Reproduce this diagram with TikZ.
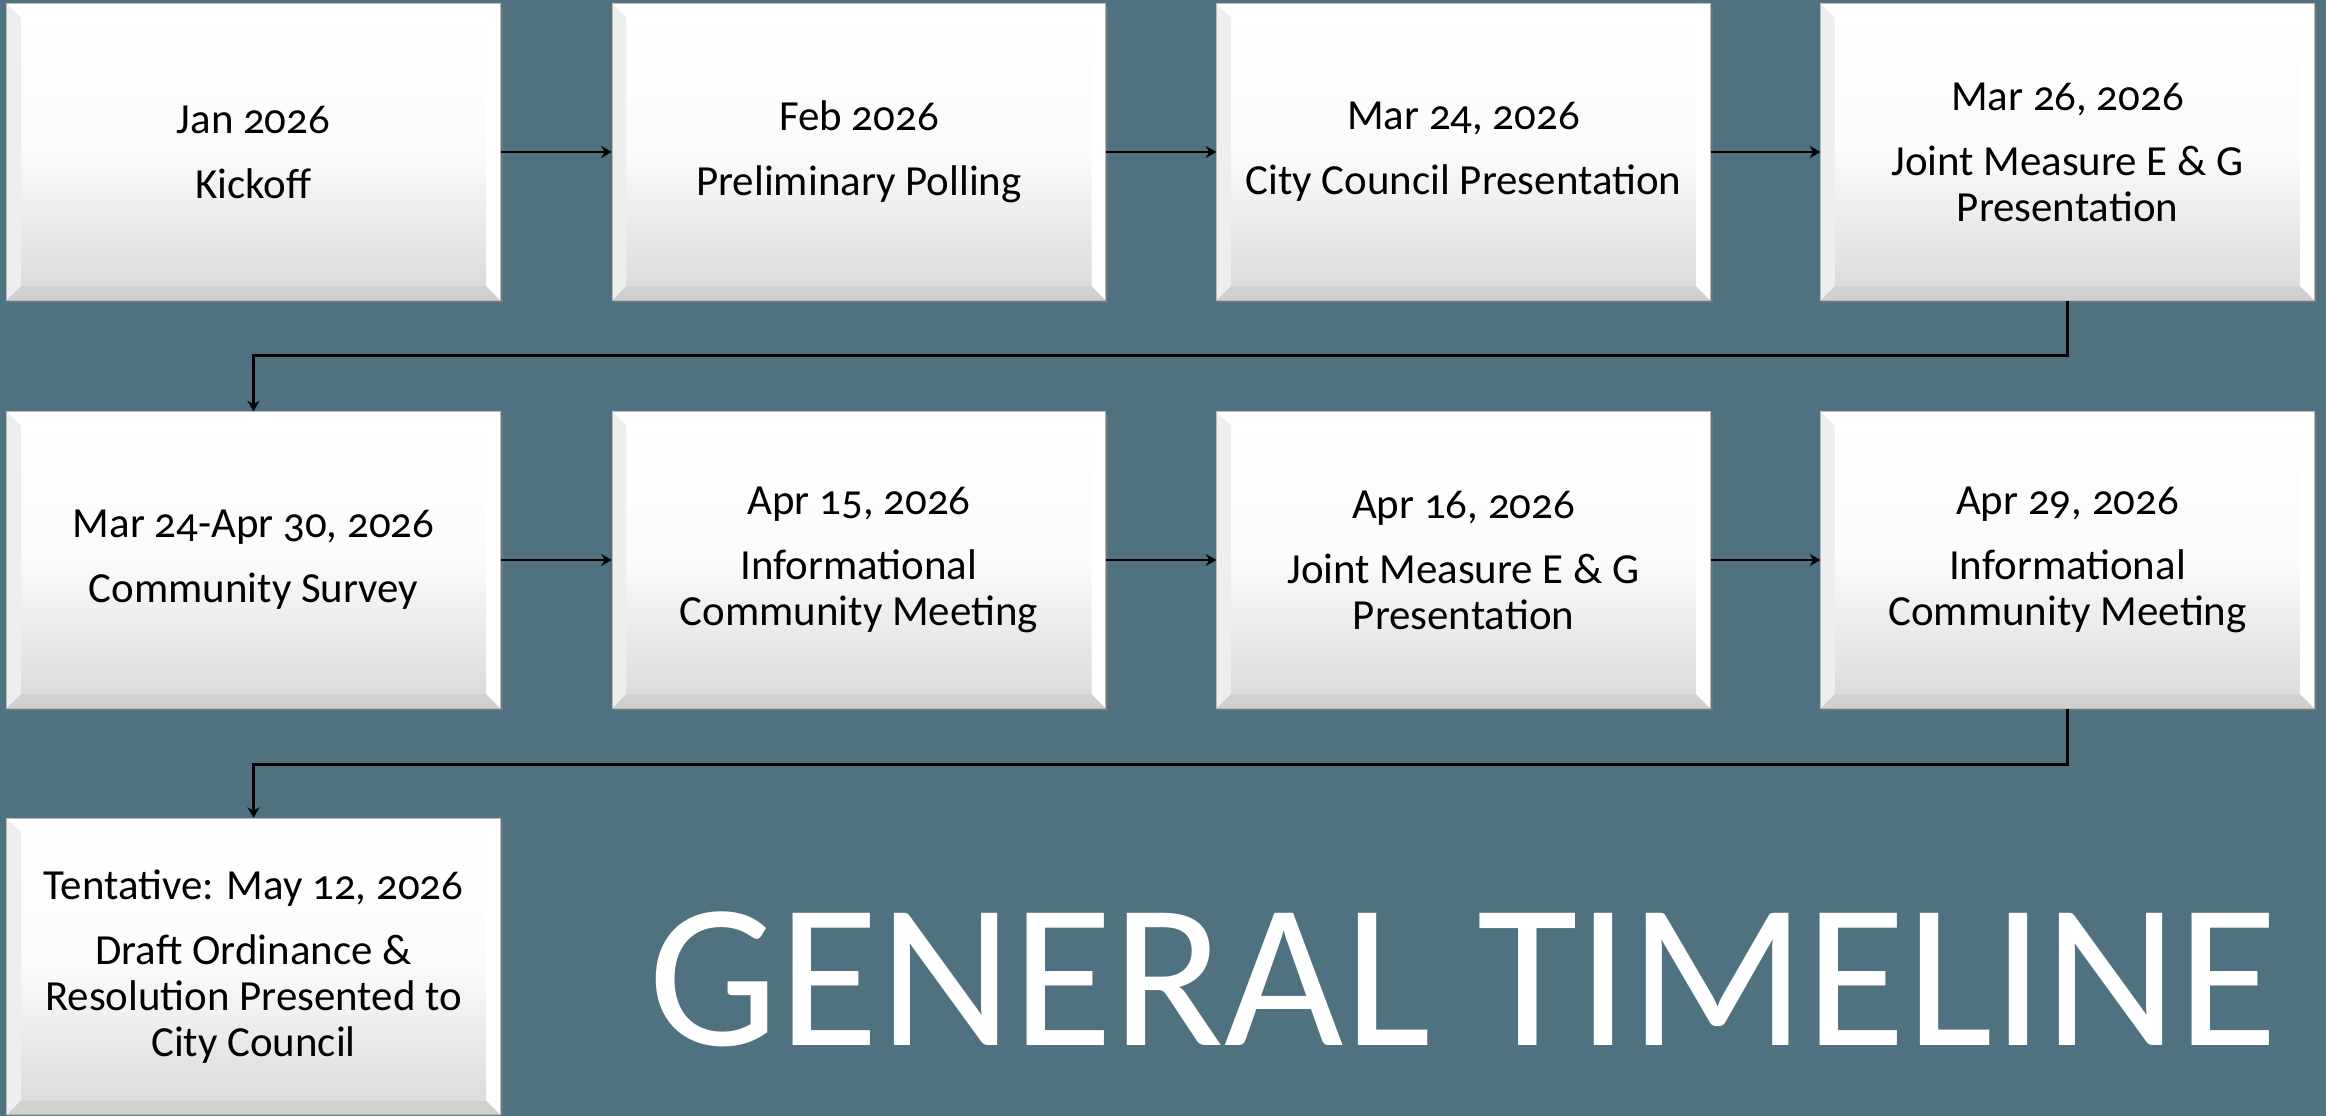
\documentclass[tikz,border=0pt]{standalone}
\usepackage{fontspec}
\setmainfont{Carlito}[Numbers=OldStyle]
\usetikzlibrary{positioning, arrows.meta, shadows}
\definecolor{SlideColor}{RGB}{80,113,128}
\definecolor{FaceBottom}{RGB}{216,216,216}
\definecolor{BevelBottom}{RGB}{208,208,208}
\definecolor{BevelSide}{RGB}{238,238,238}

\begin{document}
\begin{tikzpicture}[
    x=0.01cm, y=-0.01cm,
    >={Stealth[length=3pt, width=3.4pt]},
    every node/.style={font=\fontsize{12.2}{13.1}\selectfont},
    stage/.style={rectangle, draw=gray!55, line width=0.3pt,
        top color=white, bottom color=FaceBottom, middle color=white!97!gray,
        minimum width=4.93cm, minimum height=2.96cm, inner sep=0pt, align=center,
        drop shadow={shadow xshift=0.025cm, shadow yshift=-0.03cm, opacity=0.55},
        path picture={
            \coordinate (bnw) at (path picture bounding box.north west);
            \coordinate (bse) at (path picture bounding box.south east);
            \coordinate (bne) at (bnw -| bse);
            \coordinate (bsw) at (bnw |- bse);
            \fill[white] (bnw) -- (bne) -- ([shift={(-0.14cm,-0.14cm)}]bne) -- ([shift={(0.14cm,-0.14cm)}]bnw) -- cycle;
            \fill[BevelBottom] (bsw) -- (bse) -- ([shift={(-0.14cm,0.14cm)}]bse) -- ([shift={(0.14cm,0.14cm)}]bsw) -- cycle;
            \fill[BevelSide] (bnw) -- ([shift={(0.14cm,-0.14cm)}]bnw) -- ([shift={(0.14cm,0.14cm)}]bsw) -- (bsw) -- cycle;
            \fill[white] (bne) -- ([shift={(-0.14cm,-0.14cm)}]bne) -- ([shift={(-0.14cm,0.14cm)}]bse) -- (bse) -- cycle;
        }},
    link/.style={->, line width=0.65pt, black},
]

% Slide background
\fill[SlideColor] (0,0) rectangle (2326,1116);
\useasboundingbox (0,0) rectangle (2326,1116);

% Row 1
\node[stage] (s1) at (253.5,152) {Jan 2026\\[5.4pt]Kickoff};
\node[stage] (s2) at (859,152) {Feb 2026\\[5.4pt]Preliminary Polling};
\node[stage] (s3) at (1463.5,152) {Mar 24, 2026\\[5.4pt]City Council Presentation};
\node[stage] (s4) at (2067.5,152) {Mar 26, 2026\\[5.4pt]Joint Measure E \& G\\Presentation};

% Row 2
\node[stage] (s5) at (253.5,560) {Mar 24-Apr 30, 2026\\[5.4pt]Community Survey};
\node[stage] (s6) at (859,560) {Apr 15, 2026\\[5.4pt]Informational\\Community Meeting};
\node[stage] (s7) at (1463.5,560) {Apr 16, 2026\\[5.4pt]Joint Measure E \& G\\Presentation};
\node[stage] (s8) at (2067.5,560) {Apr 29, 2026\\[5.4pt]Informational\\Community Meeting};

% Row 3
\node[stage] (s9) at (253.5,966.5) {Tentative: May 12, 2026\\[5.4pt]Draft Ordinance \&\\Resolution Presented to\\City Council};

% Arrows along the rows
\draw[link] (s1) -- (s2);
\draw[link] (s2) -- (s3);
\draw[link] (s3) -- (s4);
\draw[link] (s5) -- (s6);
\draw[link] (s6) -- (s7);
\draw[link] (s7) -- (s8);

% Arrows down to the next row
\draw[link] (s4.south) -- ++(0,55) -| (s5.north);
\draw[link] (s8.south) -- ++(0,56) -| (s9.north);

% Title
\node[font=\fontsize{58.6}{62}\selectfont, text=white, anchor=base] (title) at (1463.5,1046) {GENERAL TIMELINE};

\end{tikzpicture}
\end{document}
